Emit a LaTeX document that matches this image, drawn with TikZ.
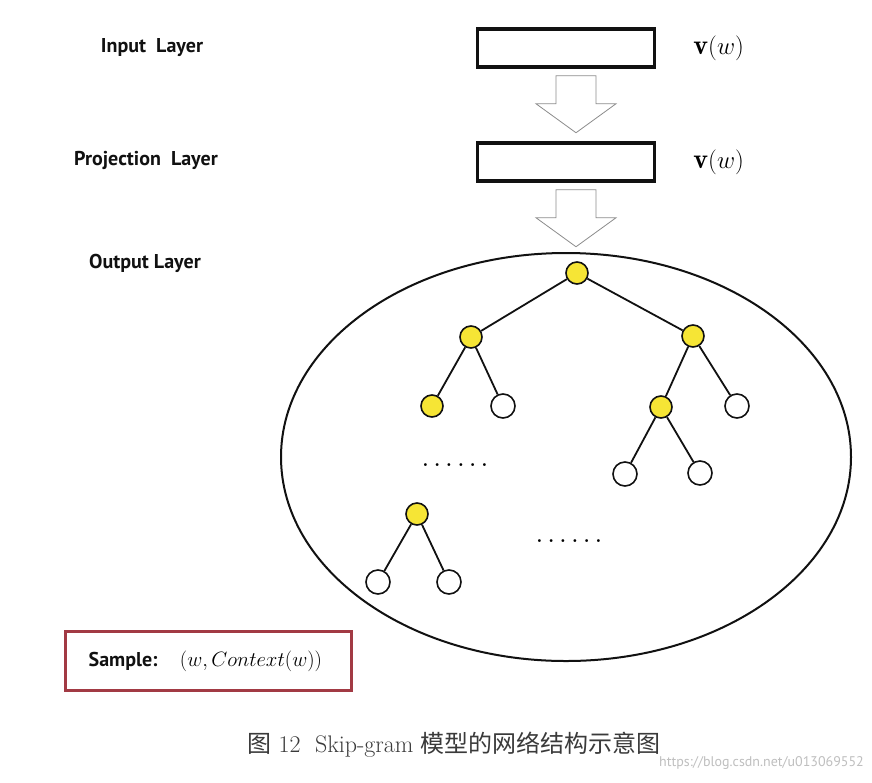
\documentclass[tikz,border=0pt]{standalone}
\usepackage{amsmath,amssymb}
\usepackage{fontspec}
\setsansfont{PT Sans}
\newfontfamily\cjk{Noto Sans CJK SC}
\usetikzlibrary{positioning,calc,shapes.geometric}
\definecolor{ink}{HTML}{111111}
\definecolor{hilite}{HTML}{F6E535}
\definecolor{frame}{HTML}{A23A44}
\definecolor{muted}{HTML}{8C8C8C}
\definecolor{capt}{HTML}{3A3A3A}
\newcommand{\sixdots}{.\hspace{5.5pt}.\hspace{5.5pt}.\hspace{5.5pt}.\hspace{5.5pt}.\hspace{5.5pt}.}

\begin{document}
\begin{tikzpicture}[x=1pt, y=-1pt,
    layer/.style={font=\fontsize{20}{24}\selectfont\sffamily\bfseries, text=ink},
    vecbox/.style={draw=ink, line width=3.5pt, minimum width=177pt, minimum height=38pt, inner sep=0pt},
    vec/.style={font=\fontsize{28}{32}\selectfont, anchor=west, inner sep=0pt},
    hollow/.style={draw=muted, line width=0.8pt, fill=white, line join=miter},
    hnode/.style={circle, draw=ink, line width=1.6pt, fill=hilite, minimum size=22pt, inner sep=0pt},
    leaf/.style={circle, draw=ink, line width=1.6pt, fill=white, minimum size=24pt, inner sep=0pt},
    edge/.style={draw=ink, line width=1.8pt},
    gap/.style={font=\fontsize{20}{22}\selectfont\bfseries, inner sep=0pt}]
  \useasboundingbox[fill=white] (0,0) rectangle (872,782);
  \node[layer] (inlbl) at (152,48) {Input\ \ Layer};
  \node[layer] (projlbl) at (146,160) {Projection\ \ Layer};
  \node[layer] (outlbl) at (145,263) {Output Layer};
  \node[vecbox] (inbox) at (566,48) {};
  \node[vecbox] (projbox) at (566,162) {};
  \node[vec] (invec) at ($(inbox.east)+(37,0)$) {$\mathbf{v}(w)$};
  \node[vec] (projvec) at ($(projbox.east)+(37,0)$) {$\mathbf{v}(w)$};
  \foreach \src in {inbox, projbox}
    \draw[hollow] ($(\src.south)+(-10,7)$) -- ++(40,0) -- ++(0,28) -- ++(20,0)
      -- ++(-40,29) -- ++(-40,-29) -- ++(20,0) -- cycle;
  \node[draw=ink, line width=2pt, ellipse, minimum width=570pt, minimum height=408pt] (outlayer) at (566,457) {};
  \node[hnode] (root) at (577,273) {};
  \node[hnode] (l) at (471,337) {};
  \node[hnode] (r) at (693,336) {};
  \node[hnode] (ll) at (432,406) {};
  \node[leaf] (lr) at (503,406) {};
  \node[hnode] (rl) at (661,407) {};
  \node[leaf] (rr) at (737,406) {};
  \node[leaf] (rll) at (625,474) {};
  \node[leaf] (rlr) at (700,473) {};
  \node[hnode] (sub) at (417,514) {};
  \node[leaf] (subl) at (378,582) {};
  \node[leaf] (subr) at (449,582) {};
  \foreach \a/\b in {root/l, root/r, l/ll, l/lr, r/rl, r/rr, rl/rll, rl/rlr, sub/subl, sub/subr}
    \draw[edge] (\a) -- (\b);
  \node[gap] (gapa) at (455,465) {\sixdots};
  \node[gap] (gapb) at (569,541) {\sixdots};
  \node[draw=frame, line width=3pt, minimum width=286pt, minimum height=59pt, inner sep=0pt] (samplebox) at (208,661) {};
  \node[font=\fontsize{20}{22}\selectfont\sffamily\bfseries, text=ink, anchor=west, inner sep=0pt] (samplelbl) at ($(samplebox.west)+(25,0)$) {Sample:};
  \node[font=\fontsize{22}{26}\selectfont, right=22pt of samplelbl, inner sep=0pt] (sampletxt) {$(w,Context(w))$};
  \node[font=\fontsize{24}{28}\selectfont, text=capt] (caption) at (454,745) {{\cjk 图}~12~~Skip-gram~{\cjk 模型的网络结构示意图}};
  \node[font=\fontsize{14}{16}\selectfont\sffamily, text=black!25, anchor=east, inner sep=0pt] (mark) at (864,763) {https://blog.csdn.net/u013069552};
\end{tikzpicture}
\end{document}
